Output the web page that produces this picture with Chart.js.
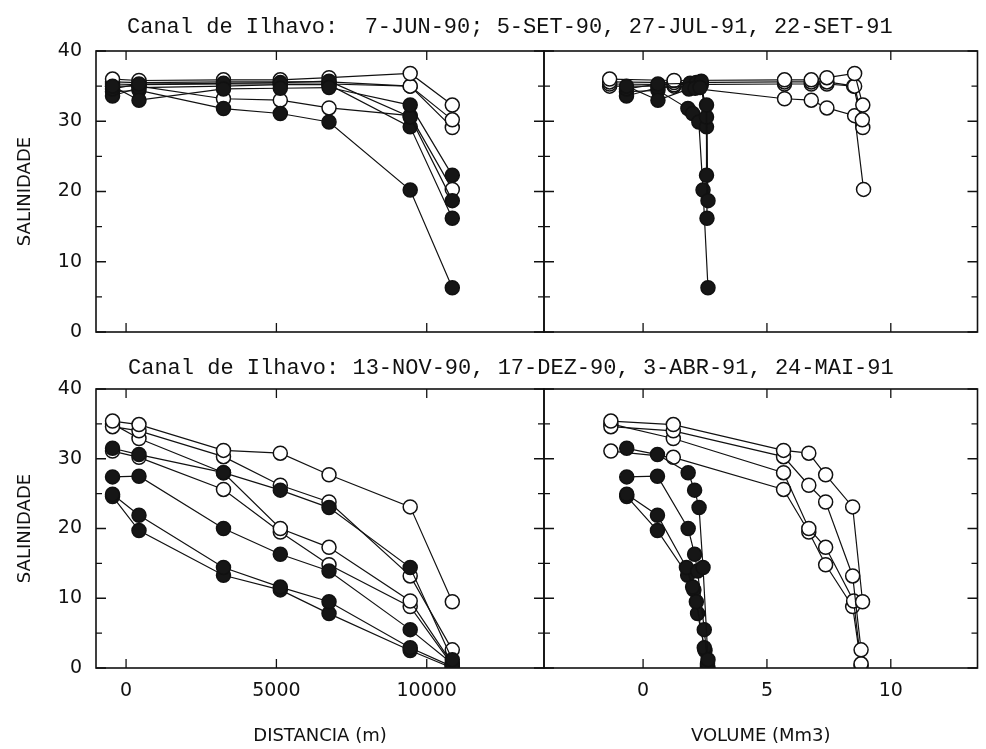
<!DOCTYPE html>
<html lang="pt">
<head>
<meta charset="utf-8">
<title>Canal de Ilhavo - salinidade</title>
<script src="https://cdn.jsdelivr.net/npm/chart.js@4.4.1/dist/chart.umd.min.js"></script>
<style>
  html, body { margin: 0; padding: 0; background: #fff; }
  #figura { position: relative; width: 986px; height: 749px; overflow: hidden; }
  #figura canvas { position: absolute; left: 0; top: 0; }
  .titulo { position: absolute; font-family: 'Liberation Mono', monospace; font-size: 22px;
            line-height: 22px; color: #111; white-space: pre; }
</style>
</head>
<body>
<div id="figura">
  <canvas id="gTopoDist" width="986" height="749"></canvas>
  <canvas id="gTopoVol" width="986" height="749"></canvas>
  <canvas id="gBaixoDist" width="986" height="749"></canvas>
  <canvas id="gBaixoVol" width="986" height="749"></canvas>
  <div class="titulo" style="left:127px; top:17px;">Canal de Ilhavo:  7-JUN-90; 5-SET-90, 27-JUL-91, 22-SET-91</div>
  <div class="titulo" style="left:128px; top:358px;">Canal de Ilhavo: 13-NOV-90, 17-DEZ-90, 3-ABR-91, 24-MAI-91</div>
</div>
<script>
// ---- dados ----

// eixos
const ticksSalinidade = [0, 10, 20, 30, 40];
const ticksDistancia = [0, 5000, 10000];
const ticksVolume = [0, 5, 10];

// distância das estações (m), comum a todas as campanhas
const distancia = [-450, 430, 3240, 5130, 6750, 9450, 10850];

// painéis de cima: 7-JUN-90, 5-SET-90, 27-JUL-91, 22-SET-91
// baixa-mar (círculos cheios)
const salTopoBM1 = [35.0, 33.0, 34.6, 34.7, 34.8, 32.3, 22.3];
const salTopoBM2 = [34.6, 35.3, 35.4, 35.5, 35.7, 30.6, 18.7];
const salTopoBM3 = [33.6, 34.8, 35.0, 35.2, 35.2, 29.2, 16.2];
const salTopoBM4 = [34.2, 34.4, 31.8, 31.1, 29.9, 20.2, 6.3];
const volTopoBM1 = [-0.67, 0.6, 1.85, 2.1, 2.3, 2.56, 2.56];
const volTopoBM2 = [-0.67, 0.6, 1.9, 2.15, 2.35, 2.56, 2.62];
const volTopoBM3 = [-0.67, 0.6, 1.95, 2.15, 2.35, 2.56, 2.58];
const volTopoBM4 = [-0.67, 0.6, 1.81, 2.0, 2.25, 2.42, 2.62];
// preia-mar (círculos abertos)
const salTopoPM1 = [36.0, 35.8, 35.9, 35.9, 36.2, 36.8, 32.3];
const salTopoPM2 = [35.6, 35.5, 35.6, 35.6, 35.6, 35.0, 30.2];
const salTopoPM3 = [35.3, 35.2, 35.3, 35.3, 35.3, 35.0, 29.1];
const salTopoPM4 = [35.0, 35.0, 33.2, 33.0, 31.9, 30.8, 20.3];
const volTopoPM1 = [-1.35, 1.25, 5.71, 6.79, 7.42, 8.54, 8.87];
const volTopoPM2 = [-1.35, 1.25, 5.71, 6.79, 7.42, 8.54, 8.85];
const volTopoPM3 = [-1.35, 1.25, 5.71, 6.79, 7.42, 8.5, 8.87];
const volTopoPM4 = [-1.35, 1.25, 5.71, 6.79, 7.42, 8.54, 8.9];

// painéis de baixo: 13-NOV-90, 17-DEZ-90, 3-ABR-91, 24-MAI-91
// baixa-mar
const salBaixoBM1 = [31.5, 30.6, 28.0, 25.5, 23.0, 14.4, 1.2];
const salBaixoBM2 = [27.4, 27.5, 20.0, 16.3, 13.9, 5.5, 0.6];
const salBaixoBM3 = [24.9, 21.9, 14.4, 11.6, 9.5, 2.9, 0.2];
const salBaixoBM4 = [24.6, 19.7, 13.3, 11.2, 7.8, 2.5, 0.0];
const volBaixoBM1 = [-0.66, 0.58, 1.82, 2.08, 2.26, 2.42, 2.62];
const volBaixoBM2 = [-0.66, 0.58, 1.82, 2.08, 2.2, 2.47, 2.6];
const volBaixoBM3 = [-0.66, 0.58, 1.75, 2.0, 2.15, 2.47, 2.6];
const volBaixoBM4 = [-0.66, 0.58, 1.8, 2.05, 2.2, 2.5, 2.62];
// preia-mar
const salBaixoPM1 = [35.4, 34.9, 31.2, 30.8, 27.7, 23.1, 9.5];
const salBaixoPM2 = [34.6, 34.0, 30.3, 26.2, 23.8, 13.2, 2.6];
const salBaixoPM3 = [35.0, 32.9, 28.0, 20.0, 17.3, 9.6, 0.6];
const salBaixoPM4 = [31.1, 30.2, 25.6, 19.5, 14.8, 8.8, 0.4];
const volBaixoPM1 = [-1.3, 1.22, 5.67, 6.69, 7.37, 8.46, 8.86];
const volBaixoPM2 = [-1.3, 1.22, 5.67, 6.69, 7.37, 8.46, 8.8];
const volBaixoPM3 = [-1.3, 1.22, 5.67, 6.69, 7.37, 8.5, 8.8];
const volBaixoPM4 = [-1.3, 1.22, 5.67, 6.69, 7.37, 8.46, 8.8];

// ---- geometria da página (px) ----
const W = 986, H = 749;
const xEsq = 96, xMeio = 544, xDir = 985;
const yTopoA = 51, yBaseA = 332, yTopoB = 389, yBaseB = 668;

const PRETO = '#111';

function serie(xs, ys, cheio) {
    return {
        data: xs.map((x, i) => ({ x: x, y: ys[i] })),
        showLine: true,
        borderColor: PRETO,
        borderWidth: 1.2,
        pointRadius: 7,
        pointHoverRadius: 7,
        pointBorderWidth: 1.5,
        pointBorderColor: PRETO,
        pointBackgroundColor: cheio ? '#161616' : '#fff'
    };
}

// moldura e marcas de escala para dentro
const molduraPlugin = {
    id: 'moldura',
    afterDatasetsDraw(chart) {
        const { ctx, chartArea: a, scales: { x, y } } = chart;
        ctx.save();
        ctx.strokeStyle = PRETO;
        ctx.lineWidth = 1.6;
        ctx.strokeRect(a.left, a.top, a.right - a.left, a.bottom - a.top);
        ctx.lineWidth = 1.3;
        ctx.beginPath();
        x.ticks.forEach(t => {
            const px = x.getPixelForValue(t.value);
            ctx.moveTo(px, a.bottom); ctx.lineTo(px, a.bottom - 9);
            ctx.moveTo(px, a.top); ctx.lineTo(px, a.top + 9);
        });
        const vals = y.ticks.map(t => t.value);
        vals.forEach((v, i) => {
            const py = y.getPixelForValue(v);
            ctx.moveTo(a.left, py); ctx.lineTo(a.left + 10, py);
            ctx.moveTo(a.right, py); ctx.lineTo(a.right - 10, py);
            if (i > 0) {
                const pm = y.getPixelForValue((v + vals[i - 1]) / 2);
                ctx.moveTo(a.left, pm); ctx.lineTo(a.left + 6, pm);
                ctx.moveTo(a.right, pm); ctx.lineTo(a.right - 6, pm);
            }
        });
        ctx.stroke();
        ctx.restore();
    }
};

function criarGrafico(id, p) {
    const fonteTicks = { family: 'DejaVu Sans', size: 19 };
    const fonteTitulo = { family: 'DejaVu Sans', size: 18 };
    new Chart(document.getElementById(id), {
        type: 'scatter',
        data: { datasets: p.datasets },
        plugins: [molduraPlugin],
        options: {
            responsive: false,
            animation: false,
            events: [],
            layout: { padding: { left: p.left, right: W - p.right, top: p.top, bottom: 0 } },
            plugins: { legend: { display: false }, tooltip: { enabled: false } },
            scales: {
                x: {
                    type: 'linear', position: 'bottom',
                    min: p.xMin, max: p.xMax,
                    afterBuildTicks: s => { s.ticks = p.xTicks.map(v => ({ value: v })); },
                    afterFit: s => { s.height = H - p.bottom; },
                    grid: { display: false, drawTicks: false },
                    border: { display: false },
                    ticks: { display: p.rotulosX, font: fonteTicks, color: PRETO, padding: 12,
                             maxRotation: 0, callback: v => String(v) },
                    title: { display: p.rotulosX, text: p.tituloX, font: fonteTitulo, color: PRETO,
                             padding: { top: 0, bottom: 2 } }
                },
                y: {
                    type: 'linear', position: 'left',
                    min: 0, max: 40,
                    afterBuildTicks: s => { s.ticks = ticksSalinidade.map(v => ({ value: v })); },
                    afterFit: s => { s.width = p.rotulosY ? xEsq : 0; },
                    grid: { display: false, drawTicks: false },
                    border: { display: false },
                    ticks: { display: p.rotulosY, font: fonteTicks, color: PRETO, padding: 14,
                             callback: v => String(v) },
                    title: { display: p.rotulosY, text: 'SALINIDADE', font: fonteTitulo, color: PRETO,
                             padding: { top: 15, bottom: 0 } }
                }
            }
        }
    });
}

const dsTopoDist = [
    serie(distancia, salTopoBM1, true), serie(distancia, salTopoBM2, true),
    serie(distancia, salTopoBM3, true), serie(distancia, salTopoBM4, true),
    serie(distancia, salTopoPM1, false), serie(distancia, salTopoPM2, false),
    serie(distancia, salTopoPM3, false), serie(distancia, salTopoPM4, false)
];
const dsTopoVol = [
    serie(volTopoBM1, salTopoBM1, true), serie(volTopoBM2, salTopoBM2, true),
    serie(volTopoBM3, salTopoBM3, true), serie(volTopoBM4, salTopoBM4, true),
    serie(volTopoPM1, salTopoPM1, false), serie(volTopoPM2, salTopoPM2, false),
    serie(volTopoPM3, salTopoPM3, false), serie(volTopoPM4, salTopoPM4, false)
];
const dsBaixoDist = [
    serie(distancia, salBaixoBM1, true), serie(distancia, salBaixoBM2, true),
    serie(distancia, salBaixoBM3, true), serie(distancia, salBaixoBM4, true),
    serie(distancia, salBaixoPM1, false), serie(distancia, salBaixoPM2, false),
    serie(distancia, salBaixoPM3, false), serie(distancia, salBaixoPM4, false)
];
const dsBaixoVol = [
    serie(volBaixoBM1, salBaixoBM1, true), serie(volBaixoBM2, salBaixoBM2, true),
    serie(volBaixoBM3, salBaixoBM3, true), serie(volBaixoBM4, salBaixoBM4, true),
    serie(volBaixoPM1, salBaixoPM1, false), serie(volBaixoPM2, salBaixoPM2, false),
    serie(volBaixoPM3, salBaixoPM3, false), serie(volBaixoPM4, salBaixoPM4, false)
];

criarGrafico('gTopoDist', {
    datasets: dsTopoDist, left: 0, right: xMeio, top: yTopoA, bottom: yBaseA,
    xMin: -1000, xMax: 13900, xTicks: ticksDistancia, rotulosX: false, rotulosY: true
});
criarGrafico('gTopoVol', {
    datasets: dsTopoVol, left: xMeio, right: xDir, top: yTopoA, bottom: yBaseA,
    xMin: -4, xMax: 13.5, xTicks: ticksVolume, rotulosX: false, rotulosY: false
});
criarGrafico('gBaixoDist', {
    datasets: dsBaixoDist, left: 0, right: xMeio, top: yTopoB, bottom: yBaseB,
    xMin: -1000, xMax: 13900, xTicks: ticksDistancia, rotulosX: true, rotulosY: true,
    tituloX: 'DISTANCIA (m)'
});
criarGrafico('gBaixoVol', {
    datasets: dsBaixoVol, left: xMeio, right: xDir, top: yTopoB, bottom: yBaseB,
    xMin: -4, xMax: 13.5, xTicks: ticksVolume, rotulosX: true, rotulosY: false,
    tituloX: 'VOLUME (Mm3)'
});
</script>
</body>
</html>
